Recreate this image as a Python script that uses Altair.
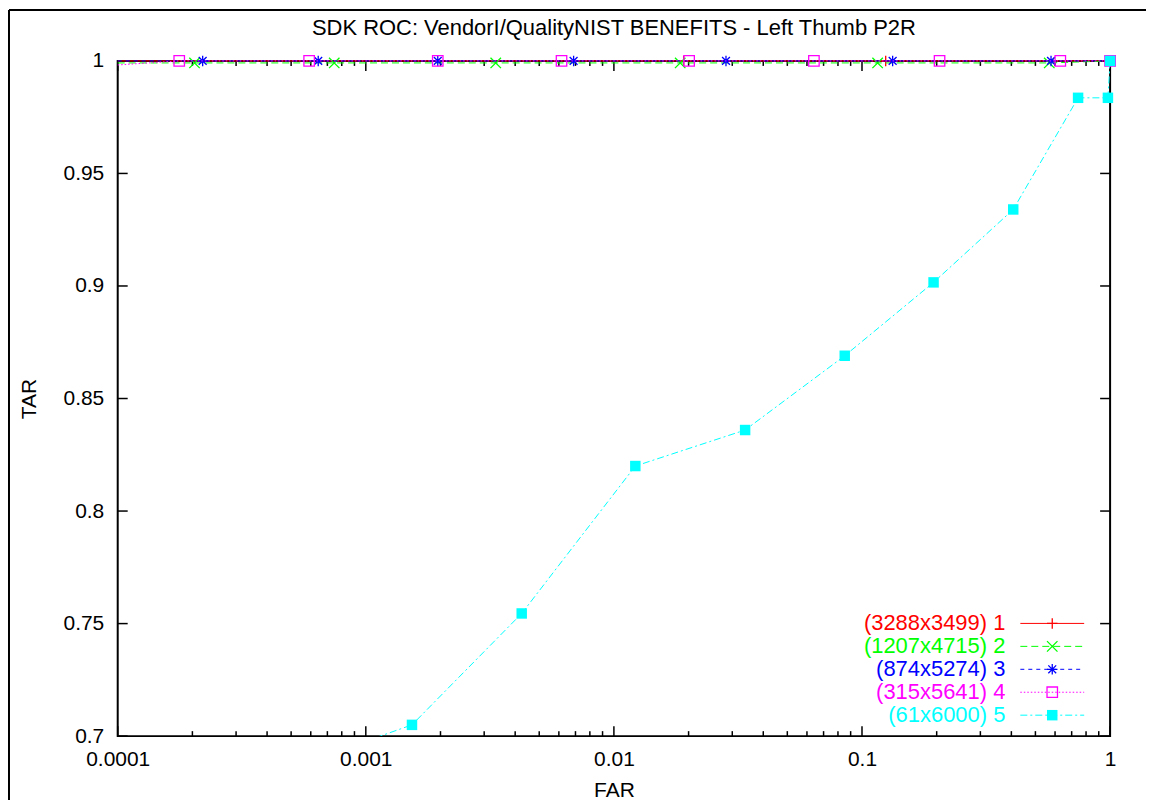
import altair as alt
import pandas as pd

TITLE = "SDK ROC: VendorI/QualityNIST BENEFITS - Left Thumb P2R"
series_names = ["(3288x3499) 1", "(1207x4715) 2", "(874x5274) 3", "(315x5641) 4", "(61x6000) 5"]

s1_far = [0.0001, 0.0191, 0.1246, 1.0]
s1_tar = [1.0, 1.0, 1.0, 1.0]
s2_far = [0.0001, 0.000204, 0.000746, 0.00334, 0.0185, 0.1156, 0.5686, 1.0]
s2_tar = [0.9991, 0.9991, 0.9991, 0.9991, 0.9991, 0.9991, 0.9991, 1.0]
s3_far = [0.0001, 0.00022, 0.000643, 0.00195, 0.00688, 0.0283, 0.1329, 0.578, 1.0]
s3_tar = [1.0, 1.0, 1.0, 1.0, 1.0, 1.0, 1.0, 1.0, 1.0]
s4_far = [0.0001, 0.000177, 0.000591, 0.00195, 0.00615, 0.0201, 0.0640, 0.2054, 0.630, 1.0]
s4_tar = [0.9982, 1.0, 1.0, 1.0, 1.0, 1.0, 1.0, 1.0, 1.0, 1.0]
s5_far = [0.0005, 0.001535, 0.00425, 0.0122, 0.0338, 0.0852, 0.1943, 0.407, 0.743, 0.98, 1.0]
s5_tar = [0.686, 0.705, 0.7545, 0.820, 0.836, 0.869, 0.9016, 0.934, 0.9836, 0.9836, 1.0]

x_major = [0.0001, 0.001, 0.01, 0.1, 1.0]
x_minor = [m * 10.0 ** e for e in (-4, -3, -2, -1) for m in range(2, 10)]
y_major = [0.7, 0.75, 0.8, 0.85, 0.9, 0.95, 1.0]

series = [(s1_far, s1_tar), (s2_far, s2_tar), (s3_far, s3_tar), (s4_far, s4_tar), (s5_far, s5_tar)]
colors = ["#ff0000", "#00ff00", "#0000ff", "#ff00ff", "#00ffff"]
dashes = [None, [7, 4], [4, 4], [1.5, 2], [7, 3, 2, 3]]
shapes = [
    "M-1,0L1,0M0,-1L0,1",
    "M-1,-1L1,1M-1,1L1,-1",
    "M-1,0L1,0M0,-1L0,1M-0.75,-0.75L0.75,0.75M-0.75,0.75L0.75,-0.75",
    "square",
    "square",
]
filled = [False, False, False, False, True]

W, H = 995, 677
FONT = "Liberation Sans"
FS = 21

xs = alt.Scale(type="log", domain=[0.0001, 1.0], nice=False)
ys = alt.Scale(domain=[0.7, 1.0], nice=False, zero=False)

x_enc = alt.X(
    "far:Q", scale=xs,
    axis=alt.Axis(
        values=x_major, format=".4~f", ticks=False, domain=False, grid=False,
        labelFont=FONT, labelFontSize=FS, labelColor="black", labelPadding=12,
        labelFlush=False, labelOverlap=False,
        title="FAR", titleFont=FONT, titleFontSize=FS, titleFontWeight="normal",
        titleColor="black", titleX=W / 2, titleY=55, titleBaseline="middle",
        titleAlign="center",
    ),
)
y_enc = alt.Y(
    "tar:Q", scale=ys,
    axis=alt.Axis(
        values=y_major, format=".2~f", ticks=False, domain=False, grid=False,
        labelFont=FONT, labelFontSize=FS, labelColor="black", labelPadding=14,
        labelFlush=False, labelOverlap=False,
        title="TAR", titleFont=FONT, titleFontSize=FS, titleFontWeight="normal",
        titleColor="black", titleX=-88, titleY=H / 2, titleAngle=270,
        titleBaseline="middle", titleAlign="center",
    ),
)

layers = []

# inward ticks (gnuplot style, mirrored on all sides)
xmaj_df = pd.DataFrame({"far": x_major})
xmin_df = pd.DataFrame({"far": x_minor})
ymaj_df = pd.DataFrame({"tar": y_major})
tick_style = dict(color="black", strokeWidth=1.5)
layers.append(alt.Chart(xmaj_df).mark_rule(**tick_style).encode(x=x_enc, y=alt.value(H), y2=alt.value(H - 10)))
layers.append(alt.Chart(xmaj_df).mark_rule(**tick_style).encode(x=x_enc, y=alt.value(0), y2=alt.value(10)))
layers.append(alt.Chart(xmin_df).mark_rule(**tick_style).encode(x=x_enc, y=alt.value(H), y2=alt.value(H - 5)))
layers.append(alt.Chart(xmin_df).mark_rule(**tick_style).encode(x=x_enc, y=alt.value(0), y2=alt.value(5)))
layers.append(alt.Chart(ymaj_df).mark_rule(**tick_style).encode(y=y_enc, x=alt.value(0), x2=alt.value(10)))
layers.append(alt.Chart(ymaj_df).mark_rule(**tick_style).encode(y=y_enc, x=alt.value(W), x2=alt.value(W - 10)))

# data series
for i, ((far, tar), name) in enumerate(zip(series, series_names)):
    df = pd.DataFrame({"far": far, "tar": tar, "series": name})
    line_kw = dict(color=colors[i], strokeWidth=1, clip=(i == 4))
    if dashes[i] is not None:
        line_kw["strokeDash"] = dashes[i]
    layers.append(alt.Chart(df).mark_line(**line_kw).encode(x=x_enc, y=y_enc, order="far:Q"))
    pt_kw = dict(shape=shapes[i], filled=filled[i], size=110, color=colors[i],
                 strokeWidth=1.3, opacity=1, clip=False)
    layers.append(
        alt.Chart(df).mark_point(**pt_kw)
        .encode(x=x_enc, y=y_enc)
        .transform_filter("datum.far > 0.0001 && datum.tar >= 0.7")
    )

# gnuplot-style key, bottom right, inside plot
for i, name in enumerate(series_names):
    yk = 564 + 23 * i
    one = pd.DataFrame({"label": [name]})
    layers.append(
        alt.Chart(one).mark_text(align="right", baseline="middle", font=FONT, fontSize=22,
                                 color=colors[i])
        .encode(x=alt.value(890), y=alt.value(yk), text="label:N")
    )
    rk = dict(color=colors[i], strokeWidth=1)
    if dashes[i] is not None:
        rk["strokeDash"] = dashes[i]
    layers.append(alt.Chart(one).mark_rule(**rk).encode(x=alt.value(905), x2=alt.value(969), y=alt.value(yk)))
    layers.append(
        alt.Chart(one).mark_point(shape=shapes[i], filled=filled[i], size=110, color=colors[i],
                                  strokeWidth=1.3, opacity=1)
        .encode(x=alt.value(937), y=alt.value(yk))
    )

# outer frame (image border)
frame_df = pd.DataFrame({"a": [0]})
layers.append(alt.Chart(frame_df).mark_rule(color="black", strokeWidth=2, clip=False)
              .encode(x=alt.value(-109), y=alt.value(-51), y2=alt.value(800)))
layers.append(alt.Chart(frame_df).mark_rule(color="black", strokeWidth=2, clip=False)
              .encode(y=alt.value(-51), x=alt.value(-109), x2=alt.value(1100)))

chart = (
    alt.layer(*layers)
    .properties(
        width=W, height=H,
        autosize=alt.AutoSizeParams(type="none"),
        padding={"left": 110, "top": 52, "right": 36, "bottom": 63},
        title=alt.TitleParams(TITLE, font=FONT, fontSize=22, fontWeight="normal",
                              color="black", anchor="middle", frame="group",
                              baseline="alphabetic", offset=-48),
        background="white",
    )
    .configure_view(stroke="black", strokeWidth=2)
)

chart.save("out.html", embed_options={"renderer": "svg", "actions": False})
